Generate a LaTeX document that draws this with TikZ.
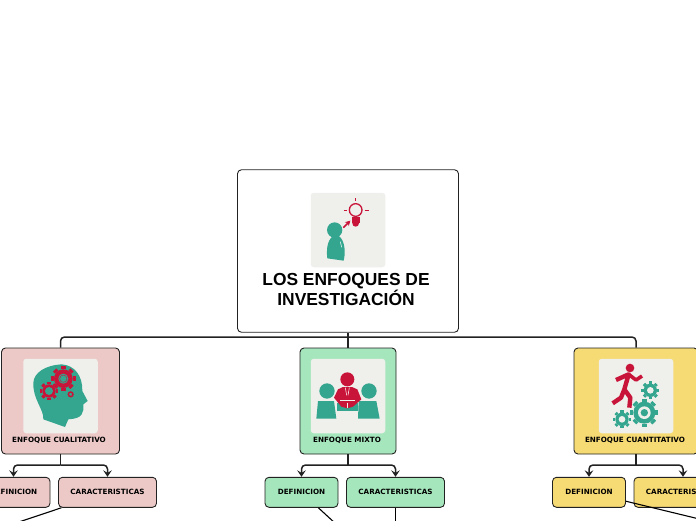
\documentclass[tikz,border=0pt]{standalone}
\usepackage{fontspec}
\usepackage{xcolor}
\usetikzlibrary{arrows.meta}
\setmainfont{Liberation Sans}
\newfontfamily\labelfont{DejaVu Sans}
\definecolor{pinkbox}{HTML}{ECC9C7}
\definecolor{greenbox}{HTML}{A5E6BC}
\definecolor{yellowbox}{HTML}{F6DA73}
\definecolor{panelgrey}{HTML}{EFF0EC}
\definecolor{iconred}{HTML}{C9143A}
\definecolor{iconteal}{HTML}{34A58E}
\definecolor{linedark}{HTML}{222222}
% x y body-radius tooth-radius hole-radius colour hole-colour
\newcommand{\gearicon}[7]{
  \foreach \a in {0,45,...,315}
    \draw[#6,line width=0.16pt*#3] (#1,#2) ++(\a:#3) -- ++(\a:#4-#3);
  \fill[#6] (#1,#2) circle (#3);
  \fill[#7] (#1,#2) circle (#5);
}

\begin{document}
\begin{tikzpicture}[x=1pt,y=-1pt,
  topic/.style={draw=linedark,line width=0.9pt,rounded corners=4pt,inner sep=0pt},
  panel/.style={fill=panelgrey,rounded corners=3pt,minimum size=74.5pt,inner sep=0pt},
  sub/.style={topic,minimum width=#1,minimum height=30pt,font=\labelfont\bfseries\fontsize{7.2}{9}\selectfont},
  caption/.style={font=\labelfont\bfseries\fontsize{7.2}{9}\selectfont,inner sep=0pt},
  bus/.style={draw=linedark,line width=1.5pt,rounded corners=4pt},
  arr/.style={bus,-{Stealth[length=6.5pt,width=8.5pt,inset=2.5pt]}},
  link/.style={draw=black,line width=1.1pt}]
  \useasboundingbox (0,0) rectangle (696,520);

  \node[topic,fill=white,minimum width=221pt,minimum height=162.5pt] (root) at (348,251) {};
  \node[topic,fill=pinkbox,minimum width=118pt,minimum height=106pt]   (cuali)  at (60.5,401) {};
  \node[topic,fill=greenbox,minimum width=96pt,minimum height=106pt]   (mixto)  at (348,401) {};
  \node[topic,fill=yellowbox,minimum width=124pt,minimum height=106pt] (cuanti) at (636,401) {};

  \node[panel] (rootpanel)   at (348,230) {};
  \node[panel] (cualipanel)  at (60.5,396) {};
  \node[panel] (mixtopanel)  at (348,396) {};
  \node[panel] (cuantipanel) at (636,396) {};

  \node[font=\bfseries\fontsize{17.4}{20.5}\selectfont,align=center,inner sep=0pt] (title) at (346,289.5) {LOS ENFOQUES DE\\INVESTIGACIÓN};
  \node[caption] (cualicap)  at (59,440)  {ENFOQUE CUALITATIVO};
  \node[caption] (mixtocap)  at (347,440) {ENFOQUE MIXTO};
  \node[caption] (cuanticap) at (635,440) {ENFOQUE CUANTITATIVO};

  \node[sub=73pt,fill=pinkbox]   (cualidef)  at (13.5,492.3)  {DEFINICION};
  \node[sub=98pt,fill=pinkbox]   (cualicar)  at (107.5,492.3) {CARACTERISTICAS};
  \node[sub=73pt,fill=greenbox]  (mixtodef)  at (301.5,492.3) {DEFINICION};
  \node[sub=98pt,fill=greenbox]  (mixtocar)  at (395.5,492.3) {CARACTERISTICAS};
  \node[sub=73pt,fill=yellowbox] (cuantidef) at (589,492.3)   {DEFINICION};
  \node[sub=98pt,fill=yellowbox] (cuanticar) at (683,492.3)   {CARACTERISTICAS};

  \coordinate (rootfork)   at (348,337);
  \coordinate (cualifork)  at (60.5,465);
  \coordinate (mixtofork)  at (348,465);
  \coordinate (cuantifork) at (636,465);
  \coordinate (cualiout)   at (10,525);
  \coordinate (mixtoout)   at (336,524);
  \coordinate (mixtodown)  at (395.5,524);
  \coordinate (cuantiout)  at (720,524);

  \draw[bus] (root.south) -- (mixto.north);
  \draw[bus] (rootfork) -| (cuali.north);
  \draw[bus] (rootfork) -| (cuanti.north);
  \draw[bus] (cuali.south) -- (cualifork);
  \draw[bus] (mixto.south) -- (mixtofork);
  \draw[bus] (cuanti.south) -- (cuantifork);
  \draw[arr] (cualifork) -| (cualidef.north);
  \draw[arr] (cualifork) -| (cualicar.north);
  \draw[arr] (mixtofork) -| (mixtodef.north);
  \draw[arr] (mixtofork) -| (mixtocar.north);
  \draw[arr] (cuantifork) -| (cuantidef.north);
  \draw[arr] (cuantifork) -| (cuanticar.north);
  \draw[link] (cualicar) -- (cualiout);
  \draw[link] (mixtodef) -- (mixtoout);
  \draw[link] (mixtocar) -- (mixtodown);
  \draw[link] (cuantidef) -- (cuantiout);

  % root icon
  \begin{scope}[shift={(308,190)},scale=1/3]
    \fill[iconteal] (80,120) circle (23);
    \fill[iconteal] (58,205) .. controls (52,160) and (68,136) .. (85,135)
      .. controls (105,138) and (116,175) .. (107,212) -- cycle;
    \draw[white,line width=0.5pt] (97,155) -- (101,172);
    \draw[iconred,line width=1.3pt] (143,60) circle (19);
    \fill[iconred] (131,82) rectangle (155,98);
    \fill[iconred] (143,100) circle (10);
    \draw[iconred,line width=1.3pt] (143,25) -- (143,34) (107,62) -- (118,62) (170,62) -- (182,62);
    \draw[iconred,line width=1.6pt,-{Stealth[length=5pt,width=5.5pt]}] (106,113) -- (127,92);
  \end{scope}

  % head with gears
  \begin{scope}[shift={(20,356)},scale=1/3]
    \fill[iconteal] (40,80) .. controls (42,50) and (75,28) .. (125,25)
      .. controls (165,28) and (188,60) .. (187,105) -- (203,135) -- (190,145)
      .. controls (192,170) and (188,188) .. (145,190) -- (135,213) -- (70,190)
      .. controls (72,160) and (38,130) .. cycle;
    \gearicon{130}{68}{28}{37}{15}{iconred}{iconteal}
    \draw[iconred,line width=0.4pt] (130,68) circle (11);
    \gearicon{87}{105}{20}{28}{12}{iconred}{iconteal}
    \draw[iconred,line width=1.5pt] (152,115) circle (7);
  \end{scope}

  % three people at a table
  \begin{scope}[shift={(308,356)},scale=1/3]
    \fill[iconteal] (57,105) circle (23);
    \fill[iconteal] (183,105) circle (23);
    \fill[iconteal] (30,135) -- (78,135) -- (85,188) -- (25,188) -- cycle;
    \fill[iconteal] (152,135) -- (205,135) -- (215,188) -- (150,188) -- cycle;
    \fill[iconteal] (88,140) rectangle (150,166);
    \fill[iconred] (118,70) circle (21);
    \fill[iconred] (78,125) -- (90,100) -- (105,93) -- (132,93) -- (148,100) -- (160,130)
      -- (135,152) -- (118,157) -- (100,152) -- cycle;
    \draw[panelgrey,line width=0.8pt] (96,133) -- (142,133) (118,140) -- (118,157);
    \draw[white,line width=0.5pt] (112,95) -- (116,118) (124,95) -- (120,118);
  \end{scope}

  % runner on gears
  \begin{scope}[shift={(596,356)},scale=1/3]
    \gearicon{145}{170}{33}{42}{19}{iconteal}{panelgrey}
    \fill[iconteal] (145,170) circle (11);
    \gearicon{163}{103}{20}{27}{10}{iconteal}{panelgrey}
    \gearicon{78}{190}{20}{27}{10}{iconteal}{panelgrey}
    \fill[iconred] (102,36) circle (13);
    \draw[iconred,line width=4.4pt,line join=round] (60,72) -- (98,55) -- (85,100) -- (75,125) -- (50,142);
    \draw[iconred,line width=3.6pt,line join=round] (98,55) -- (120,72) -- (138,60);
    \draw[iconred,line width=4.4pt,line join=round] (85,100) -- (103,125) -- (100,155);
  \end{scope}
\end{tikzpicture}
\end{document}
